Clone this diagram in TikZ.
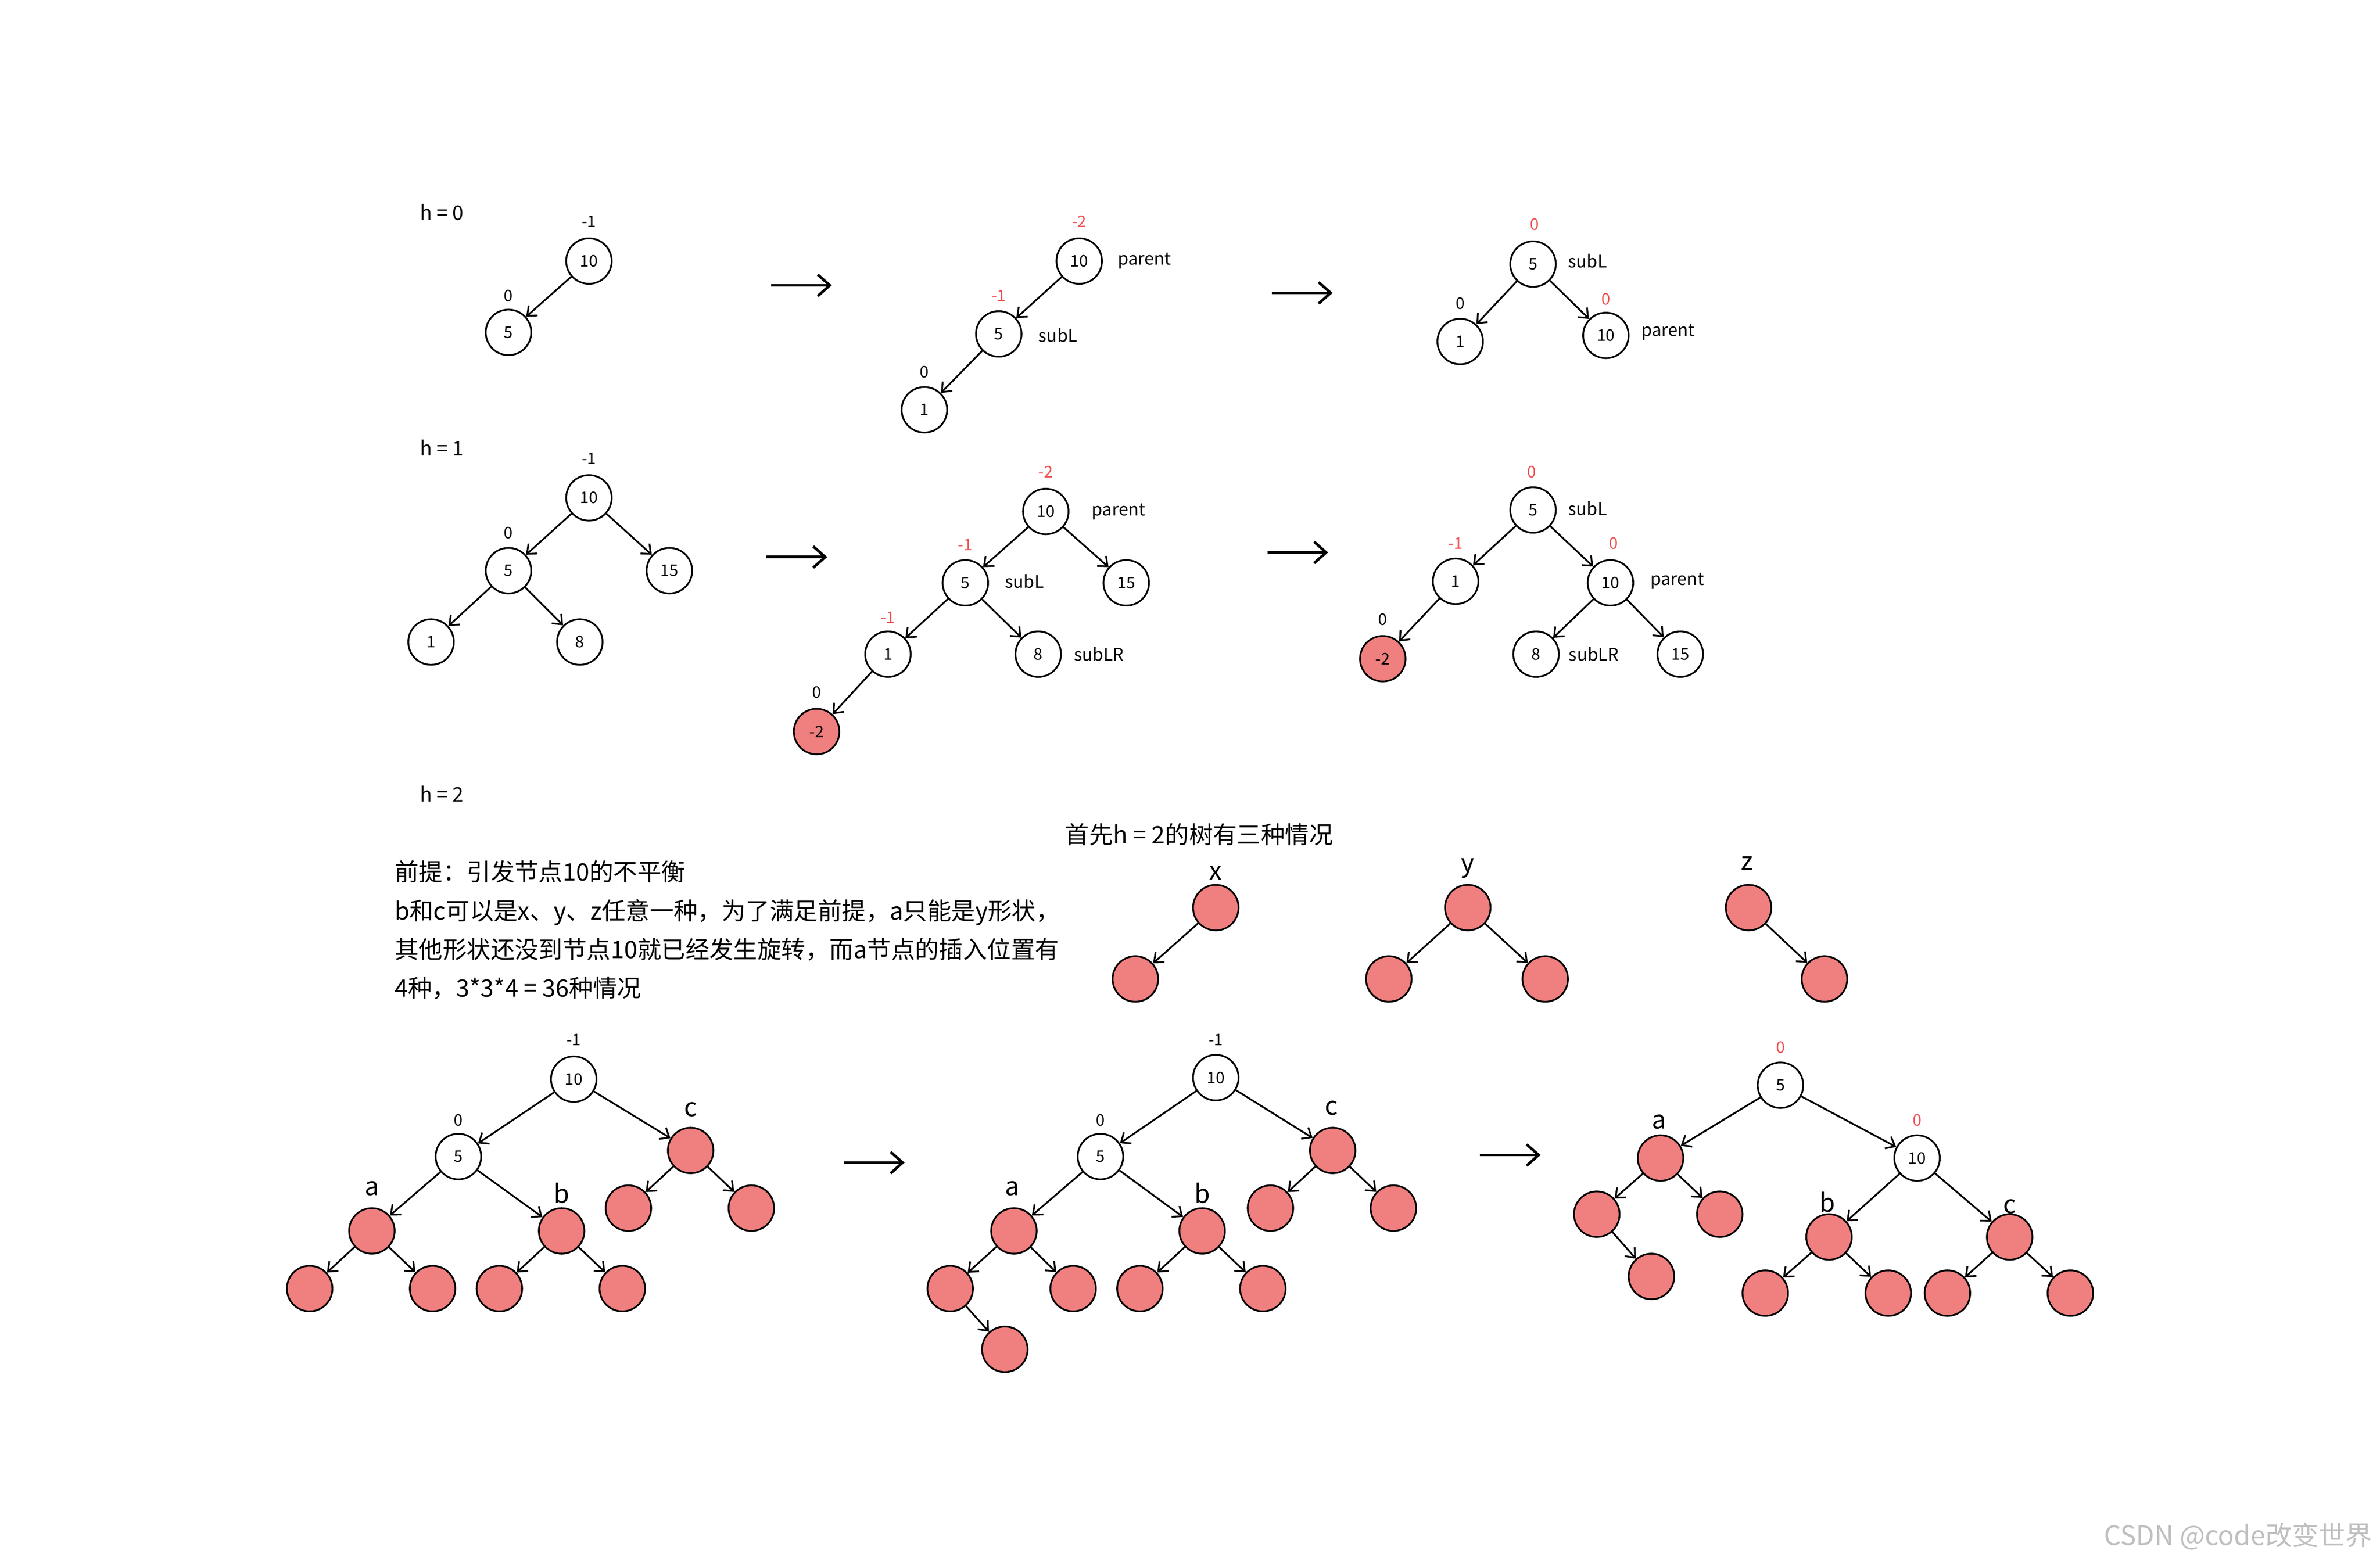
\documentclass[tikz,border=0pt]{standalone}
\usepackage{fontspec}
\setmainfont{Noto Sans CJK SC}
\usetikzlibrary{arrows.meta}
\definecolor{nred}{HTML}{F07F7F}
\definecolor{lred}{HTML}{F05050}
\tikzset{
 wn/.style={circle,draw,line width=1.3pt,minimum size=1.2cm,inner sep=0pt,font=\fontsize{12}{14}\selectfont,fill=white},
 rn/.style={wn,fill=nred},
 arr/.style={line width=1.3pt,-{Straight Barb[length=6pt,width=10pt]}},
 big/.style={line width=2pt,-{Straight Barb[length=9pt,width=16pt]}},
 lbl/.style={font=\fontsize{12}{14}\selectfont,inner sep=1pt},
 rl/.style={lbl,text=lred},
 tl/.style={font=\fontsize{13}{16}\selectfont,inner sep=1pt},
 hl/.style={font=\fontsize{15}{18}\selectfont,inner sep=1pt},
 ll/.style={font=\fontsize{19}{22}\selectfont,inner sep=1pt},
 cn/.style={font=\fontsize{18}{29}\selectfont,inner sep=1pt}
}
\begin{document}
\begin{tikzpicture}[x=0.04cm,y=-0.04cm]
\useasboundingbox (0,0) rectangle (1568,1031);
% Row 1
\node[hl] (h0) at (291,140) {h = 0};
\node[wn] (a10) at (388,172) {10}; \node[lbl] (a10l) at (388,146) {-1};
\node[wn] (a5) at (335,219) {5}; \node[lbl] (a5l) at (335,195) {0};
\draw[arr] (a10)--(a5);
\coordinate (r1a) at (508,188); \coordinate (r1b) at (548,188); \draw[big] (r1a)--(r1b);
\node[wn] (b10) at (711,172) {10}; \node[rl] (b10l) at (711,146) {-2}; \node[tl] (b10t) at (754,172) {parent};
\node[wn] (b5) at (658,220) {5}; \node[rl] (b5l) at (658,195) {-1}; \node[tl] (b5t) at (697,221) {subL};
\node[wn] (b1) at (609,270) {1}; \node[lbl] (b1l) at (609,245) {0};
\draw[arr] (b10)--(b5); \draw[arr] (b5)--(b1);
\coordinate (r2a) at (838,193); \coordinate (r2b) at (878,193); \draw[big] (r2a)--(r2b);
\node[wn] (c5) at (1010,174) {5}; \node[rl] (c5l) at (1011,148) {0}; \node[tl] (c5t) at (1046,172) {subL};
\node[wn] (c1) at (962,225) {1}; \node[lbl] (c1l) at (962,200) {0};
\node[wn] (c10) at (1058,221) {10}; \node[rl] (c10l) at (1058,197) {0}; \node[tl] (c10t) at (1099,219) {parent};
\draw[arr] (c5)--(c1); \draw[arr] (c5)--(c10);
% Row 2
\node[hl] (h1) at (291,295) {h = 1};
\node[wn] (d10) at (388,328) {10}; \node[lbl] (d10l) at (388,302) {-1};
\node[wn] (d5) at (335,376) {5}; \node[lbl] (d5l) at (335,351) {0};
\node[wn] (d15) at (441,376) {15};
\node[wn] (d1) at (284,423) {1};
\node[wn] (d8) at (382,423) {8};
\draw[arr] (d10)--(d5); \draw[arr] (d10)--(d15); \draw[arr] (d5)--(d1); \draw[arr] (d5)--(d8);
\coordinate (r3a) at (505,367); \coordinate (r3b) at (545,367); \draw[big] (r3a)--(r3b);
\node[wn] (e10) at (689,337) {10}; \node[rl] (e10l) at (689,311) {-2}; \node[tl] (e10t) at (737,337) {parent};
\node[wn] (e5) at (636,384) {5}; \node[rl] (e5l) at (636,359) {-1}; \node[tl] (e5t) at (675,383) {subL};
\node[wn] (e15) at (742,384) {15};
\node[wn] (e1) at (585,431) {1}; \node[rl] (e1l) at (585,407) {-1};
\node[wn] (e8) at (684,431) {8}; \node[tl] (e8t) at (724,431) {subLR};
\node[rn] (em2) at (538,482) {-2}; \node[lbl] (em2l) at (538,456) {0};
\draw[arr] (e10)--(e5); \draw[arr] (e10)--(e15); \draw[arr] (e5)--(e1); \draw[arr] (e5)--(e8); \draw[arr] (e1)--(em2);
\coordinate (r4a) at (835,364); \coordinate (r4b) at (875,364); \draw[big] (r4a)--(r4b);
\node[wn] (f5) at (1010,336) {5}; \node[rl] (f5l) at (1009,311) {0}; \node[tl] (f5t) at (1046,335) {subL};
\node[wn] (f1) at (959,383) {1}; \node[rl] (f1l) at (959,358) {-1};
\node[wn] (f10) at (1061,384) {10}; \node[rl] (f10l) at (1063,358) {0}; \node[tl] (f10t) at (1105,383) {parent};
\node[rn] (fm2) at (911,434) {-2}; \node[lbl] (fm2l) at (911,408) {0};
\node[wn] (f8) at (1012,431) {8}; \node[tl] (f8t) at (1050,431) {subLR};
\node[wn] (f15) at (1107,431) {15};
\draw[arr] (f5)--(f1); \draw[arr] (f5)--(f10); \draw[arr] (f1)--(fm2); \draw[arr] (f10)--(f8); \draw[arr] (f10)--(f15);
% h = 2
\node[hl] (h2) at (291,523) {h = 2};
\node[cn] (head) at (790,550) {首先h = 2的树有三种情况};
\node[cn,anchor=north west,align=left] (txt) at (259,566) {前提：引发节点10的不平衡\\b和c可以是x、y、z任意一种，为了满足前提，a只能是y形状，\\其他形状还没到节点10就已经发生旋转，而a节点的插入位置有\\4种，3*3*4 = 36种情况};
\node[ll] (xl) at (801,575) {x}; \node[rn] (x1) at (801,598) {}; \node[rn] (x2) at (748,645) {};
\draw[arr] (x1)--(x2);
\node[ll] (yl) at (967,572) {y}; \node[rn] (y1) at (967,598) {}; \node[rn] (y2) at (915,645) {}; \node[rn] (y3) at (1018,645) {};
\draw[arr] (y1)--(y2); \draw[arr] (y1)--(y3);
\node[ll] (zl) at (1151,569) {z}; \node[rn] (z1) at (1152,598) {}; \node[rn] (z2) at (1202,645) {};
\draw[arr] (z1)--(z2);
% Tree G
\node[wn] (g10) at (378,711) {10}; \node[lbl] (g10l) at (378,685) {-1};
\node[wn] (g5) at (302,762) {5}; \node[lbl] (g5l) at (302,738) {0};
\node[rn] (gc) at (455,758) {}; \node[ll] (gcl) at (455,731) {c};
\node[rn] (ga) at (245,811) {}; \node[ll] (gal) at (245,783) {a};
\node[rn] (gb) at (370,811) {}; \node[ll] (gbl) at (370,786) {b};
\node[rn] (ga1) at (204,849) {}; \node[rn] (ga2) at (285,849) {};
\node[rn] (gb1) at (329,849) {}; \node[rn] (gb2) at (410,849) {};
\node[rn] (gc1) at (414,796) {}; \node[rn] (gc2) at (495,796) {};
\draw[arr] (g10)--(g5); \draw[arr] (g10)--(gc); \draw[arr] (g5)--(ga); \draw[arr] (g5)--(gb);
\draw[arr] (ga)--(ga1); \draw[arr] (ga)--(ga2); \draw[arr] (gb)--(gb1); \draw[arr] (gb)--(gb2);
\draw[arr] (gc)--(gc1); \draw[arr] (gc)--(gc2);
\coordinate (r5a) at (556,766); \coordinate (r5b) at (596,766); \draw[big] (r5a)--(r5b);
% Tree H
\node[wn] (h10) at (801,710) {10}; \node[lbl] (h10l) at (801,685) {-1};
\node[wn] (h5) at (725,762) {5}; \node[lbl] (h5l) at (725,738) {0};
\node[rn] (hc) at (878,758) {}; \node[ll] (hcl) at (877,730) {c};
\node[rn] (ha) at (668,811) {}; \node[ll] (hal) at (667,783) {a};
\node[rn] (hb) at (792,811) {}; \node[ll] (hbl) at (792,786) {b};
\node[rn] (ha1) at (626,849) {}; \node[rn] (ha2) at (707,849) {};
\node[rn] (ha3) at (662,889) {};
\node[rn] (hb1) at (751,849) {}; \node[rn] (hb2) at (832,849) {};
\node[rn] (hc1) at (837,796) {}; \node[rn] (hc2) at (918,796) {};
\draw[arr] (h10)--(h5); \draw[arr] (h10)--(hc); \draw[arr] (h5)--(ha); \draw[arr] (h5)--(hb);
\draw[arr] (ha)--(ha1); \draw[arr] (ha)--(ha2); \draw[arr] (ha1)--(ha3); \draw[arr] (hb)--(hb1); \draw[arr] (hb)--(hb2);
\draw[arr] (hc)--(hc1); \draw[arr] (hc)--(hc2);
\coordinate (r6a) at (975,761); \coordinate (r6b) at (1015,761); \draw[big] (r6a)--(r6b);
% Tree I
\node[wn] (i5) at (1173,715) {5}; \node[rl] (i5l) at (1173,690) {0};
\node[rn] (ia) at (1094,763) {}; \node[ll] (ial) at (1093,739) {a};
\node[wn] (i10) at (1263,763) {10}; \node[rl] (i10l) at (1263,738) {0};
\node[rn] (ia1) at (1052,800) {}; \node[rn] (ia2) at (1133,800) {};
\node[rn] (ia3) at (1088,841) {};
\node[rn] (ib) at (1205,815) {}; \node[ll] (ibl) at (1204,792) {b};
\node[rn] (ic) at (1324,815) {}; \node[ll] (icl) at (1324,795) {c};
\node[rn] (ib1) at (1163,852) {}; \node[rn] (ib2) at (1244,852) {};
\node[rn] (ic1) at (1283,852) {}; \node[rn] (ic2) at (1364,852) {};
\draw[arr] (i5)--(ia); \draw[arr] (i5)--(i10); \draw[arr] (ia)--(ia1); \draw[arr] (ia)--(ia2); \draw[arr] (ia1)--(ia3);
\draw[arr] (i10)--(ib); \draw[arr] (i10)--(ic); \draw[arr] (ib)--(ib1); \draw[arr] (ib)--(ib2); \draw[arr] (ic)--(ic1); \draw[arr] (ic)--(ic2);
\node[font=\fontsize{20}{24}\selectfont,text=black!25,anchor=east] (wm) at (1566,1012) {CSDN @code改变世界};
\end{tikzpicture}
\end{document}
